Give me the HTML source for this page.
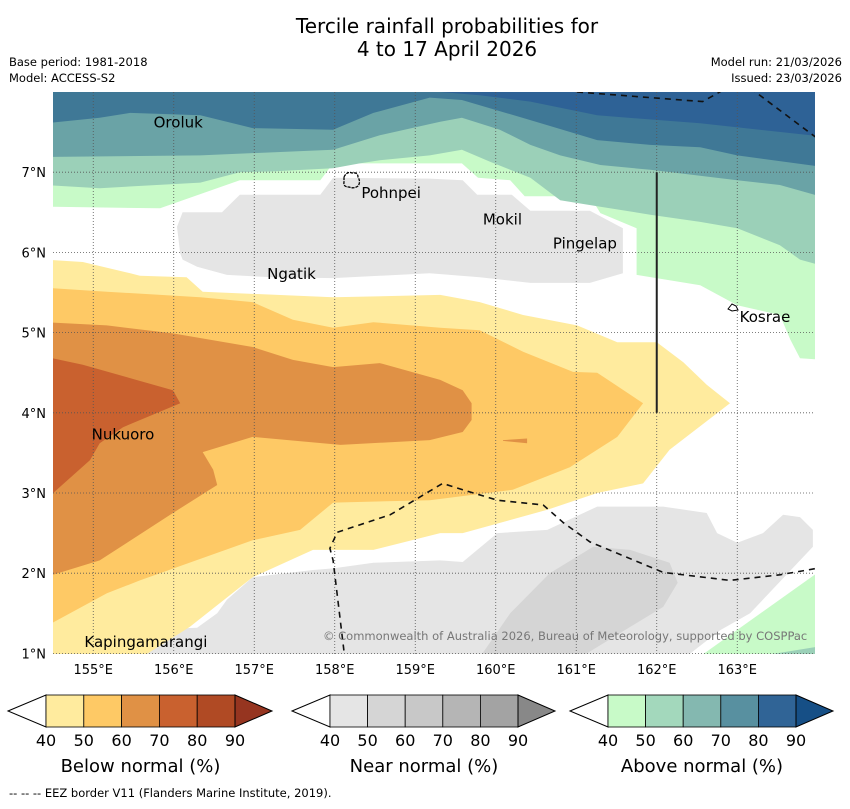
<!DOCTYPE html>
<html><head><meta charset="utf-8"><style>
body{margin:0;background:#fff;font-family:"Liberation Sans","DejaVu Sans",sans-serif;}
</style></head><body>
<svg id="s" width="850" height="804" xmlns="http://www.w3.org/2000/svg" font-family="DejaVu Sans, Liberation Sans, sans-serif">
<text x="447" y="33" font-size="20" text-anchor="middle">Tercile rainfall probabilities for</text>
<text x="447" y="56" font-size="20" text-anchor="middle">4 to 17 April 2026</text>
<text x="9" y="66" font-size="11.5">Base period: 1981-2018</text>
<text x="9" y="82" font-size="11.5">Model: ACCESS-S2</text>
<text x="842" y="66" font-size="11.5" text-anchor="end">Model run: 21/03/2026</text>
<text x="842" y="82" font-size="11.5" text-anchor="end">Issued: 23/03/2026</text>
<defs><clipPath id="mc"><rect x="53" y="92" width="762" height="562"/></clipPath></defs>
<g id="map" clip-path="url(#mc)"><rect x="53" y="92" width="762" height="562" fill="#fff"/></g>
<g id="axes"></g>
<g id="cb"></g>
<text x="9" y="797" font-size="11.5">--  --  -- EEZ border V11 (Flanders Marine Institute, 2019).</text>
</svg>
<script>
const lonTicks=[155,156,157,158,159,160,161,162,163];
const latTicks=[1,2,3,4,5,6,7];
const above40=[[154.4,8.1],[164.1,8.1],[164.1,4.66],[163.78,4.68],[163.66,4.91],[163.53,5.22],[163.0,5.34],[162.54,5.59],[161.75,5.72],[161.75,6.30],[161.30,6.49],[161.17,6.70],[160.36,6.70],[160.18,6.90],[159.78,6.93],[159.58,7.11],[157.98,7.11],[157.82,6.90],[156.82,6.90],[155.83,6.55],[154.4,6.57]];
const above50=[[154.4,8.1],[164.1,8.1],[164.1,5.82],[163.78,5.91],[163.53,6.09],[163.0,6.30],[162.54,6.38],[161.92,6.47],[161.30,6.57],[160.80,6.65],[160.43,6.93],[159.93,7.13],[159.58,7.28],[159.18,7.21],[158.56,7.15],[158.31,7.11],[157.98,7.05],[157.23,7.01],[156.82,7.0],[156.33,6.87],[155.08,6.80],[154.4,6.84]];
const above60=[[154.4,8.1],[164.1,8.1],[164.1,6.68],[163.53,6.84],[163.0,6.90],[161.92,7.03],[161.30,7.09],[160.80,7.21],[160.43,7.34],[160.05,7.53],[159.58,7.68],[159.31,7.63],[158.56,7.46],[157.98,7.28],[156.33,7.21],[154.4,7.19]];
const above70=[[154.4,8.1],[164.1,8.1],[164.1,7.06],[163.0,7.21],[162.54,7.31],[161.92,7.34],[161.26,7.40],[160.43,7.65],[159.58,7.90],[159.18,7.93],[158.48,7.74],[157.98,7.53],[156.98,7.55],[156.33,7.71],[155.46,7.74],[155.08,7.68],[154.4,7.61]];
const above80=[[159.31,8.1],[164.1,8.1],[164.1,7.44],[162.54,7.61],[161.26,7.71],[160.43,7.88],[159.80,7.96],[159.31,8.0]];
const aboveSE40=[[162.45,0.9],[164.1,2.08],[164.1,0.9]];
const aboveSE50=[[162.87,0.9],[164.1,1.1],[164.1,0.9]];
const near40a=[[156.11,6.50],[156.60,6.50],[156.82,6.72],[157.82,6.72],[157.98,6.93],[159.18,6.92],[159.59,6.90],[159.77,6.72],[160.20,6.72],[160.43,6.52],[161.17,6.52],[161.58,6.30],[161.58,5.74],[161.17,5.62],[160.43,5.62],[159.80,5.69],[159.18,5.74],[157.98,5.68],[157.23,5.69],[156.66,5.72],[156.29,5.82],[156.11,5.91],[156.08,5.99],[156.04,6.32]];
const near40b=[[155.30,0.9],[155.42,1.29],[156.29,1.32],[156.54,1.50],[156.66,1.67],[156.98,1.95],[157.73,2.04],[157.98,2.06],[158.48,2.13],[159.31,2.16],[159.59,2.14],[160.02,2.50],[160.64,2.54],[161.26,2.83],[162.08,2.83],[162.62,2.75],[162.75,2.50],[163.0,2.38],[163.32,2.50],[163.57,2.73],[163.78,2.70],[163.94,2.54],[163.94,2.33],[163.16,1.50],[162.79,1.29],[162.29,0.9]];
const near50=[[159.80,0.95],[160.18,1.50],[160.67,2.00],[161.21,2.33],[161.67,2.29],[162.16,2.13],[162.26,1.88],[162.08,1.58],[161.67,1.33],[161.05,0.95]];
const below40=[[154.4,5.91],[154.87,5.88],[155.46,5.74],[155.58,5.71],[156.16,5.69],[156.36,5.51],[157.98,5.44],[159.31,5.47],[159.80,5.38],[160.34,5.22],[161.01,5.09],[161.51,4.88],[162.0,4.88],[162.33,4.63],[162.62,4.35],[162.91,4.12],[162.16,3.54],[161.83,3.12],[161.26,3.00],[160.64,2.79],[159.59,2.50],[159.31,2.50],[158.48,2.29],[157.73,2.29],[156.98,1.95],[156.20,1.33],[155.6,0.95],[154.4,0.9]];
const below50=[[154.4,5.56],[155.17,5.51],[156.33,5.44],[156.98,5.38],[157.48,5.16],[157.98,5.06],[158.48,5.13],[159.31,5.06],[159.80,5.03],[160.34,4.76],[160.96,4.51],[161.26,4.50],[161.83,4.12],[161.51,3.70],[160.92,3.32],[160.21,3.04],[159.18,2.91],[157.98,2.88],[157.57,2.54],[156.98,2.41],[155.58,1.91],[155.17,1.75],[154.4,1.33]];
const below60=[[154.4,5.13],[155.17,5.09],[155.99,4.99],[156.98,4.82],[157.48,4.66],[157.98,4.57],[158.56,4.62],[159.31,4.41],[159.59,4.28],[159.70,4.12],[159.70,3.91],[159.59,3.76],[159.18,3.66],[158.07,3.60],[156.98,3.70],[156.36,3.51],[156.49,3.29],[156.54,3.10],[155.99,2.75],[155.08,2.16],[154.4,1.95]];
const below60b=[[160.09,3.66],[160.39,3.68],[160.39,3.62],[160.09,3.65]];
const below70=[[154.4,4.70],[154.87,4.60],[155.99,4.28],[156.08,4.12],[155.37,3.82],[155.08,3.62],[154.96,3.41],[154.4,2.91]];
const eezTop1=[[161.01,8.0],[162.57,7.88],[162.87,8.05]];
const eezTop2=[[163.16,8.05],[163.97,7.44]];
const eezLow=[[158.13,0.9],[157.98,2.16],[157.94,2.31],[158.03,2.51],[158.69,2.73],[159.34,3.12],[159.59,3.04],[160.02,2.91],[160.59,2.85],[160.84,2.63],[161.17,2.39],[162.08,2.01],[162.91,1.91],[163.53,1.98],[164.1,2.08]];
const islandNames=["Oroluk","Pohnpei","Mokil","Pingelap","Ngatik","Kosrae","Nukuoro","Kapingamarangi"];
const islandLon=[155.75,158.33,159.84,160.71,157.16,163.03,154.98,154.89];
const islandLat=[7.56,6.68,6.35,6.05,5.67,5.13,3.67,1.08];
const cbLevels=[40,50,60,70,80,90];
const belowColors=["#ffeb9e","#fec965","#e09145","#c9612f","#b04a24","#963520"];
const nearColors=["#e5e5e5","#d5d5d5","#c8c8c8","#b5b5b5","#a3a3a3","#888888"];
const aboveColors=["#c8fac8","#a3d8bc","#84b8b0","#5890a0","#306496","#164f86"];
const cbTitles=["Below normal (%)","Near normal (%)","Above normal (%)"];

const NS="http://www.w3.org/2000/svg";
const X=lon=>53+(lon-154.5)*80.5;
const Y=lat=>92+(8-lat)*80.2;
function mk(tag,parent,attrs){const e=document.createElementNS(NS,tag);for(const k in attrs)e.setAttribute(k,attrs[k]);parent.appendChild(e);return e;}
const map=document.getElementById('map');
const pts=a=>a.map(p=>X(p[0]).toFixed(1)+','+Y(p[1]).toFixed(1)).join(' ');
function poly(a,fill,name){const e=mk('polygon',map,{points:pts(a),fill:fill});

}
poly(above40,"#c8fac8","above-normal-40");
poly(above50,"#9bd0b8","above-normal-50");
poly(above60,"#6aa3a6","above-normal-60");
poly(above70,"#3f7896","above-normal-70");
poly(above80,"#2e6296","above-normal-80");
poly(aboveSE40,"#c8fac8","above-normal-40-se");
poly(aboveSE50,"#9bd0b8","above-normal-50-se");
poly(near40a,"#e5e5e5","near-normal-40-north");
poly(near40b,"#e5e5e5","near-normal-40-south");
poly(near50,"#d5d5d5","near-normal-50");
poly(below40,"#ffeb9e","below-normal-40");
poly(below50,"#fec965","below-normal-50");
poly(below60,"#e09145","below-normal-60");
poly(below60b,"#e09145","below-normal-60-streak");
poly(below70,"#c9612f","below-normal-70");
lonTicks.forEach(l=>{const e=mk('line',map,{x1:X(l),x2:X(l),y1:92,y2:654,stroke:'#555','stroke-width':0.8,'stroke-dasharray':'1,2'});

});
latTicks.forEach(l=>{const e=mk('line',map,{x1:53,x2:815,y1:Y(l),y2:Y(l),stroke:'#555','stroke-width':0.8,'stroke-dasharray':'1,2'});

});
[eezTop1,eezTop2,eezLow].forEach(a=>{const e=mk('polyline',map,{points:pts(a),fill:'none',stroke:'#111','stroke-width':1.6,'stroke-dasharray':'6,5'});

});
const vl=mk('line',map,{x1:X(162),x2:X(162),y1:Y(7),y2:Y(4),stroke:'#222','stroke-width':2});


const pp=mk('path',map,{d:'M344,177 q3,-6 8,-4 q6,-1 6,4 q3,5 0,9 q-4,3 -9,1 q-6,0 -5,-5 z',fill:'none',stroke:'#000','stroke-width':1.3,'stroke-dasharray':'3,1'});


const ko=mk('path',map,{d:'M728,309 l4,-5 l4,2 l2,4 l-6,1 z',fill:'#fff',stroke:'#000','stroke-width':1});


islandNames.forEach((n,i)=>{const t=mk('text',map,{x:X(islandLon[i]),y:Y(islandLat[i]),'font-size':15});t.textContent=n;

});
const cp=mk('text',map,{x:323,y:640,'font-size':11.5,fill:'#777'});cp.textContent='© Commonwealth of Australia 2026, Bureau of Meteorology, supported by COSPPac';


const ax=document.getElementById('axes');
lonTicks.forEach(l=>{const t=mk('text',ax,{x:X(l),y:674,'font-size':13,'text-anchor':'middle'});t.textContent=l+'°E';

});
latTicks.forEach(l=>{const t=mk('text',ax,{x:46,y:Y(l)+5,'font-size':13,'text-anchor':'end'});t.textContent=l+'°N';

});
const cb=document.getElementById('cb');
const bars=[[8,46,235,272,belowColors],[292,330,518,555,nearColors],[570,608,796,833,aboveColors]];
bars.forEach((b,bi)=>{const [t0,x0,x1,t1,cols]=b;const y0=695,y1=727,ym=711;const w=(x1-x0)/(cbLevels.length-1);
const lt=mk('polygon',cb,{points:`${t0},${ym} ${x0},${y0} ${x0},${y1}`,fill:'#fff',stroke:'#000','stroke-width':1});


for(let i=0;i<cbLevels.length-1;i++){const r=mk('rect',cb,{x:x0+i*w,y:y0,width:w,height:y1-y0,fill:cols[i],stroke:'#000','stroke-width':0.8});

}
const rt=mk('polygon',cb,{points:`${x1},${y0} ${t1},${ym} ${x1},${y1}`,fill:cols[5],stroke:'#000','stroke-width':1});


cbLevels.forEach((v,i)=>{const t=mk('text',cb,{x:x0+i*w,y:746,'font-size':16,'text-anchor':'middle'});t.textContent=v;

});
const tt=mk('text',cb,{x:(x0+x1)/2,y:772,'font-size':18,'text-anchor':'middle'});tt.textContent=cbTitles[bi];

});
</script>
</body></html>
